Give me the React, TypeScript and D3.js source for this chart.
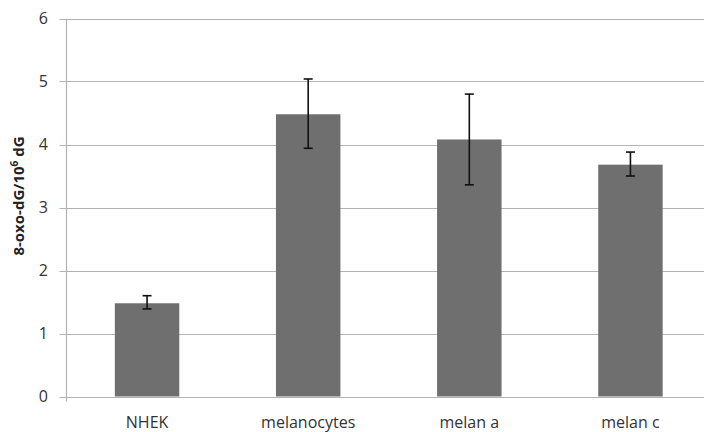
import * as d3 from 'd3';
import { useEffect, useRef } from 'react';

const width = 704;
const height = 432;
const margin = { top: 18.5, left: 66.5, bottom: 35.5, right: -7 };

const categories = ['NHEK', 'melanocytes', 'melan a', 'melan c'];
const values = [1.48, 4.48, 4.08, 3.68];
const errLow = [1.39, 3.94, 3.36, 3.5];
const errHigh = [1.6, 5.04, 4.8, 3.88];
const yTicks = [0, 1, 2, 3, 4, 5, 6];

const font = "'Open Sans', 'Liberation Sans', sans-serif";

function BarChart() {
  const wrapperRef = useRef<HTMLDivElement>(null);

  useEffect(() => {
    const wrapper = d3.select(wrapperRef.current);
    wrapper.selectAll('svg').remove();

    const svg = wrapper
      .append('svg')
      .attr('width', width)
      .attr('height', height)
      .style('display', 'block')
      .style('background', '#fff');

    const x = d3
      .scaleBand()
      .domain(categories)
      .range([margin.left, width - margin.right])
      .paddingInner(0.6)
      .paddingOuter(0.3);

    const y = d3
      .scaleLinear()
      .domain([0, 6])
      .range([height - margin.bottom, margin.top]);

    // gridlines and tick marks
    svg
      .append('g')
      .selectAll('line')
      .data(yTicks)
      .join('line')
      .attr('x1', margin.left - 7)
      .attr('x2', width - margin.right)
      .attr('y1', (d) => Math.round(y(d)) + 0.5)
      .attr('y2', (d) => Math.round(y(d)) + 0.5)
      .attr('stroke', '#b3b3b3')
      .attr('stroke-width', 1.2);

    svg
      .append('line')
      .attr('x1', margin.left)
      .attr('x2', margin.left)
      .attr('y1', y(6))
      .attr('y2', y(0) + 5)
      .attr('stroke', '#b3b3b3')
      .attr('stroke-width', 1.2);

    svg
      .append('g')
      .selectAll('text')
      .data(yTicks)
      .join('text')
      .attr('x', 48)
      .attr('y', (d) => y(d))
      .attr('dy', '0.36em')
      .attr('text-anchor', 'end')
      .attr('font-family', font)
      .attr('font-size', 16)
      .attr('fill', '#333')
      .text((d) => d);

    const data = categories.map((c, i) => ({
      name: c,
      value: values[i],
      lo: errLow[i],
      hi: errHigh[i],
    }));

    svg
      .append('g')
      .selectAll('rect')
      .data(data)
      .join('rect')
      .attr('x', (d) => x(d.name) || 0)
      .attr('y', (d) => y(d.value))
      .attr('width', x.bandwidth())
      .attr('height', (d) => y(0) - y(d.value))
      .attr('fill', '#6f6f6f');

    const err = svg.append('g').attr('stroke', '#111').attr('stroke-width', 1.6);
    data.forEach((d) => {
      const cx = (x(d.name) || 0) + x.bandwidth() / 2;
      err.append('line').attr('x1', cx).attr('x2', cx).attr('y1', y(d.lo)).attr('y2', y(d.hi));
      [d.lo, d.hi].forEach((v) => {
        err
          .append('line')
          .attr('x1', cx - 4.5)
          .attr('x2', cx + 4.5)
          .attr('y1', y(v))
          .attr('y2', y(v));
      });
    });

    svg
      .append('g')
      .selectAll('text')
      .data(categories)
      .join('text')
      .attr('x', (d) => (x(d) || 0) + x.bandwidth() / 2)
      .attr('y', 428)
      .attr('text-anchor', 'middle')
      .attr('font-family', font)
      .attr('font-size', 16)
      .attr('fill', '#333')
      .text((d) => d);

    const title = svg
      .append('text')
      .attr('transform', `translate(24, 196) rotate(-90)`)
      .attr('text-anchor', 'middle')
      .attr('font-family', font)
      .attr('font-size', 15)
      .attr('font-weight', 'bold')
      .attr('fill', '#222');
    title.append('tspan').text('8-oxo-dG/10');
    title.append('tspan').attr('font-size', 10).attr('dy', -6).text('6');
    title.append('tspan').attr('dy', 6).text(' dG');

    return () => {
      wrapper.select('svg').remove();
    };
  }, []);

  return <div ref={wrapperRef}></div>;
}

export default function App() {
  return (
    <div
      style={{
        position: 'fixed',
        left: 0,
        top: 0,
        width: 704,
        height: 432,
        overflow: 'hidden',
        background: '#fff',
      }}
    >
      <BarChart />
    </div>
  );
}
